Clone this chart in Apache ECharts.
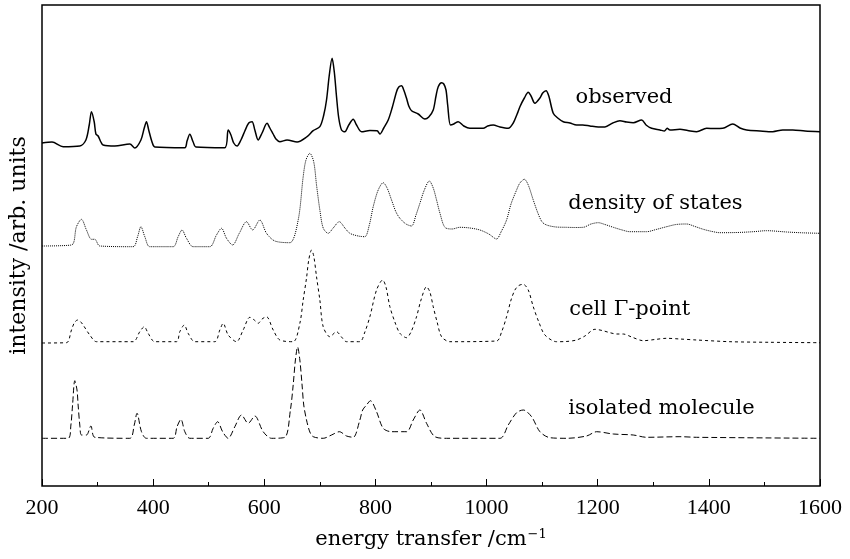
<!DOCTYPE html>
<html>
<head>
<meta charset="utf-8">
<script src="https://cdn.jsdelivr.net/npm/echarts@6/dist/echarts.min.js"></script>
<style>
  html, body { margin: 0; padding: 0; background: #fff; }
  #chart { width: 850px; height: 559px; }
</style>
</head>
<body>
<div id="chart"></div>
<script>
// spectra, [energy transfer /cm-1, intensity (offset, arb. units)]
const observed = [
  [200, 343], [218, 344], [238, 339.3], [268, 340], [279, 346], [285, 361], [289, 374.3], [294, 364],
  [297, 352], [301, 350], [306, 344], [310, 341], [331, 340], [358, 342], [367, 338], [378, 346],
  [384, 358], [388, 364.3], [392, 356], [398, 344], [403, 339], [457, 338.3], [461, 345], [466, 351.7],
  [472, 344], [477, 339], [529, 338.3], [535, 356], [540, 351], [545, 343], [551, 340], [558, 346],
  [565, 355], [572, 363], [578, 364.3], [583, 356], [589, 346], [596, 353], [605, 362.7], [610, 358],
  [616, 352], [621, 347], [628, 344.3], [641, 346], [659, 344], [677, 349.3], [688, 355.3], [700, 359.3],
  [707, 371], [712, 386], [717, 411], [722, 427.7], [726, 414], [730, 389.3], [734, 368], [739, 356],
  [745, 354.3], [752, 361], [760, 366.7], [766, 361], [775, 354.3], [790, 355.5], [803, 355.3], [808, 352],
  [815, 358], [823, 366], [830, 378], [838, 394.3], [842, 399], [847, 400.3], [851, 396], [856, 387.7],
  [860, 380], [865, 375.3], [877, 372], [889, 367], [896, 369], [904, 376], [909, 390], [913, 399.3],
  [919, 403.3], [923, 402], [927, 396], [930, 381], [935, 361], [941, 362], [949, 364.3], [959, 360],
  [970, 357.7], [994, 357.7], [1002, 360], [1012, 361], [1024, 359], [1039, 357.7], [1048, 363], [1055, 372],
  [1060, 379.3], [1068, 388], [1075, 393.7], [1080, 390], [1087, 382.7], [1096, 388], [1101, 393], [1107, 395.3],
  [1112, 390], [1120, 372.7], [1128, 368], [1138, 364.3], [1150, 363], [1162, 361], [1173, 361], [1186, 360],
  [1201, 359], [1213, 359], [1227, 363], [1240, 365.3], [1252, 364], [1264, 363.3], [1279, 366], [1287, 361],
  [1297, 357.7], [1312, 356], [1320, 355], [1325, 357.7], [1330, 356], [1348, 356.7], [1362, 355.5], [1378, 354.3],
  [1396, 357.7], [1411, 357.5], [1425, 357.7], [1443, 362], [1456, 358], [1468, 356], [1492, 355], [1515, 354.3],
  [1533, 356], [1551, 356], [1573, 355], [1600, 354.3]
];

const densityOfStates = [
  [200, 240], [253, 241], [262, 259.3], [271, 266.7], [280, 256], [289, 246.7], [295, 246.7], [304, 240],
  [364, 239.3], [372, 249.3], [378, 259.3], [385, 249.3], [394, 239.3], [436, 239.3], [445, 249.3], [452, 256],
  [460, 247.7], [472, 239.3], [502, 239.3], [514, 251], [523, 257.7], [532, 247.7], [543, 241], [555, 252.7],
  [568, 264.3], [579, 256], [592, 266], [604, 252.7], [619, 245], [646, 243.3], [661, 266], [670, 309.3],
  [675, 326], [682, 332.7], [689, 324], [694, 301], [700, 276], [706, 258], [715, 252.7], [724, 258],
  [735, 264.3], [745, 258], [754, 252.7], [769, 250], [781, 249.3], [789, 261], [796, 279.3], [805, 296],
  [814, 303.3], [821, 298], [829, 286], [837, 274], [844, 267.7], [855, 262], [865, 260], [873, 271],
  [880, 282.7], [888, 296], [897, 305], [904, 298], [910, 286], [916, 273], [925, 258.7], [938, 257],
  [952, 258.7], [970, 258], [988, 256], [1004, 252], [1018, 247], [1026, 254], [1036, 266], [1044, 282],
  [1054, 296], [1060, 303], [1068, 306.7], [1075, 301], [1084, 286], [1093, 272], [1100, 264], [1108, 261],
  [1125, 259], [1144, 258.7], [1159, 258.5], [1174, 258.7], [1188, 262], [1201, 263.3], [1213, 261.5], [1228, 258.7],
  [1244, 256], [1258, 254.3], [1288, 254.3], [1305, 256.5], [1324, 259.3], [1341, 261.5], [1360, 262], [1375, 259.5],
  [1390, 256.7], [1406, 254.5], [1420, 253.3], [1451, 253.5], [1480, 254.3], [1504, 255.3], [1540, 254], [1568, 253.2],
  [1600, 252.7]
];

const cellGammaPoint = [
  [200, 143], [244, 143.3], [253, 156], [258, 163], [264, 166], [269, 164.5], [274, 161], [286, 151],
  [298, 144.3], [364, 144.3], [376, 154.3], [384, 159.3], [391, 152.7], [403, 144.3], [442, 144.3], [448, 154.3],
  [456, 161], [463, 152.7], [475, 144.3], [511, 144.3], [520, 156], [526, 162.7], [535, 151], [550, 144.3],
  [562, 156], [574, 168.7], [582, 166], [589, 162.7], [596, 167], [604, 169.3], [616, 156], [628, 146],
  [652, 144.3], [664, 162.7], [670, 186], [676, 208], [680, 226], [685, 236], [689, 230], [694, 209.3],
  [700, 186], [706, 159.3], [718, 149.3], [730, 154.3], [739, 149], [748, 144.3], [772, 144.3], [781, 154],
  [790, 169.3], [802, 196], [813, 206], [819, 199], [826, 179.3], [835, 164], [844, 152.7], [856, 148.3],
  [864, 154], [874, 169.3], [882, 186], [892, 199.3], [898, 194], [904, 179.3], [911, 164], [919, 149.3],
  [934, 144.3], [1018, 145], [1027, 154], [1036, 169.3], [1044, 186], [1051, 196], [1058, 200.5], [1066, 201.7],
  [1075, 196], [1084, 179.3], [1094, 164], [1105, 151], [1126, 144.3], [1143, 144.5], [1162, 146], [1177, 150],
  [1195, 156.7], [1208, 155.5], [1222, 153.3], [1234, 152], [1246, 152], [1261, 149], [1282, 145.3], [1303, 146.5],
  [1324, 147.7], [1348, 147], [1378, 146], [1438, 144.3], [1510, 143.7], [1600, 143.3]
];

const isolatedMolecule = [
  [200, 47.7], [247, 47.7], [252, 61], [255, 81], [259, 105.3], [263, 96], [265, 81], [268, 61],
  [271, 51], [280, 51], [288, 60], [295, 48.7], [358, 47.7], [366, 61], [371, 72.7], [379, 54.3],
  [388, 47.7], [436, 47.7], [443, 59.3], [450, 66.7], [457, 54.3], [466, 47.7], [499, 47.7], [508, 57.7],
  [516, 64.3], [525, 54.3], [535, 47.7], [547, 59.3], [559, 71], [571, 62.7], [583, 70], [598, 54.3],
  [613, 47.7], [637, 48.7], [647, 76], [652, 101], [656, 126], [660, 139], [664, 126], [668, 101],
  [671, 81], [676, 66], [682, 54], [688, 49.3], [706, 47.7], [721, 51], [735, 54.3], [748, 50],
  [760, 48.7], [772, 66], [777, 76], [784, 81], [791, 85.3], [802, 74.3], [814, 57.7], [829, 54.3],
  [856, 54.3], [868, 66], [880, 76], [892, 62.7], [907, 49.3], [928, 47.7], [1024, 47.7], [1039, 61],
  [1054, 73.3], [1066, 76], [1081, 69.3], [1096, 54.3], [1114, 48.3], [1144, 47.7], [1180, 50], [1198, 54.3],
  [1228, 52], [1264, 51], [1288, 48.7], [1348, 49.3], [1378, 48.7], [1600, 47.7]
];

const seriesNames = ['observed', 'density of states', 'cell Γ-point', 'isolated molecule'];
// label anchor: [energy transfer, intensity] of the left/middle of each curve label
const labelAnchors = [[1160, 388], [1147, 282], [1149, 176], [1147, 77]];

const TEXT_FONT = '"DejaVu Serif", "Liberation Serif", serif';
const NUM_FONT = '"Liberation Serif", "DejaVu Serif", serif';

const chart = echarts.init(document.getElementById('chart'), null, { renderer: 'canvas' });

function line(name, data, type, width) {
  return {
    name: name,
    type: 'line',
    data: data,
    showSymbol: false,
    smooth: 0.3,
    animation: false,
    lineStyle: { color: '#000', width: width, type: type }
  };
}

chart.setOption({
  animation: false,
  backgroundColor: '#fff',
  grid: {
    left: 42, right: 30, top: 5, bottom: 73,
    show: true, borderColor: '#000', borderWidth: 1.5
  },
  xAxis: {
    type: 'value',
    min: 200, max: 1600, interval: 200,
    name: 'energy transfer /cm{sup|−1}',
    nameLocation: 'middle',
    nameGap: 42,
    nameTextStyle: {
      fontFamily: TEXT_FONT, fontSize: 21, color: '#000',
      rich: { sup: { fontFamily: TEXT_FONT, fontSize: 13, color: '#000', verticalAlign: 'top', padding: [0, 0, 10, 1] } }
    },
    axisLine: { show: false },
    axisTick: { inside: true, length: 7, lineStyle: { color: '#000', width: 1 } },
    minorTick: { show: true, splitNumber: 2, length: 4, lineStyle: { color: '#000', width: 1 } },
    splitLine: { show: false },
    axisLabel: { fontFamily: NUM_FONT, fontSize: 22, color: '#000', margin: 11, formatter: v => String(v) }
  },
  yAxis: {
    type: 'value',
    min: 0, max: 481,
    name: 'intensity /arb. units',
    nameLocation: 'middle',
    nameGap: 12,
    nameTextStyle: { fontFamily: TEXT_FONT, fontSize: 22, color: '#000' },
    axisLine: { show: false },
    axisTick: { show: false },
    axisLabel: { show: false },
    splitLine: { show: false }
  },
  series: [
    line(seriesNames[0], observed, 'solid', 1.5),
    line(seriesNames[1], densityOfStates, 'dotted', 1),
    line(seriesNames[2], cellGammaPoint, [3, 3], 1),
    line(seriesNames[3], isolatedMolecule, [6, 3], 1)
  ]
});

// curve labels placed through the axes' own scales
chart.setOption({
  graphic: seriesNames.map((n, i) => {
    const p = chart.convertToPixel({ gridIndex: 0 }, labelAnchors[i]);
    return {
      type: 'text',
      x: p[0], y: p[1],
      style: { text: n, font: '21px ' + TEXT_FONT, fill: '#000', verticalAlign: 'middle' }
    };
  })
});

window.addEventListener('resize', () => chart.resize());
</script>
</body>
</html>
